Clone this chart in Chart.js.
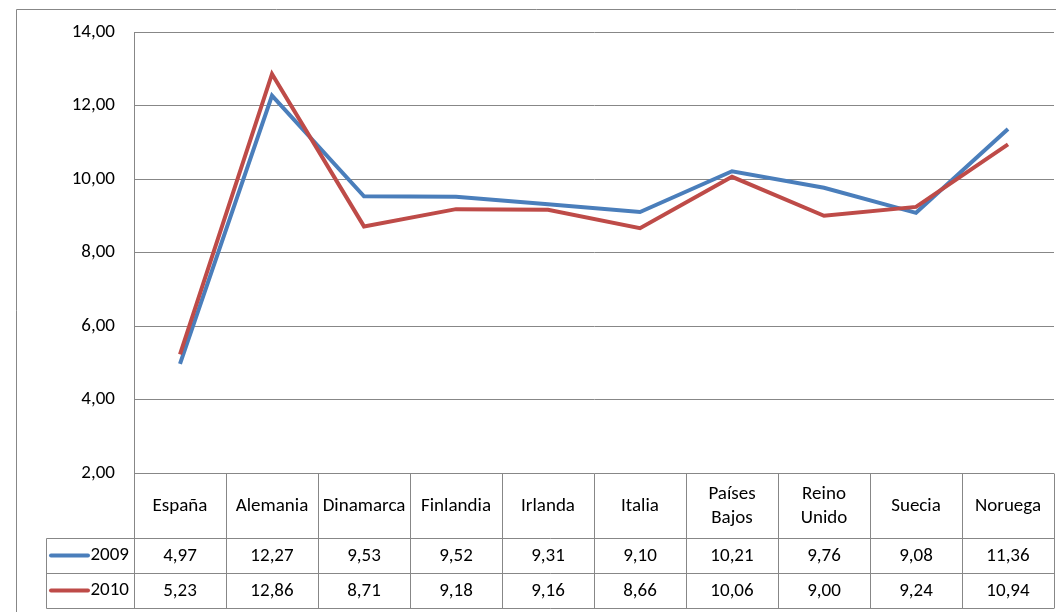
<!DOCTYPE html>
<html>
<head>
<meta charset="utf-8">
<script src="https://cdn.jsdelivr.net/npm/chart.js@4"></script>
<style>
  html, body { margin: 0; padding: 0; background: #fff; }
  #wrap { width: 1056px; height: 612px; position: relative; }
</style>
</head>
<body>
<div id="wrap"><canvas id="lineChart" width="1056" height="612"></canvas></div>
<script>
const countries = ["España", "Alemania", "Dinamarca", "Finlandia", "Irlanda", "Italia", ["Países", "Bajos"], ["Reino", "Unido"], "Suecia", "Noruega"];
const values2009 = [4.97, 12.27, 9.53, 9.52, 9.31, 9.10, 10.21, 9.76, 9.08, 11.36];
const values2010 = [5.23, 12.86, 8.71, 9.18, 9.16, 8.66, 10.06, 9.00, 9.24, 10.94];
const yTicks = [2, 4, 6, 8, 10, 12, 14];

const FONT = "Carlito, Calibri, 'Liberation Sans Narrow', 'DejaVu Sans Condensed', sans-serif";
const BLUE = "#4A7EBB";
const RED = "#BE4B48";
const GRID = "#878787";

const fmt = v => v.toFixed(2).replace(".", ",");

// data table + outer frame drawn under the chart area
const dataTable = {
    id: "dataTable",
    afterDraw(chart) {
        const ctx = chart.ctx;
        const x = chart.scales.x;
        const area = chart.chartArea;
        const n = countries.length;
        const colW = (area.right - area.left) / n;
        const top = Math.round(area.bottom) + 0.5;
        const rowH = [65, 35, 35];
        const r1 = top + rowH[0];
        const r2 = r1 + rowH[1];
        const r3 = r2 + rowH[2];
        const keyLeft = 46.5;

        ctx.save();
        ctx.strokeStyle = GRID;
        ctx.lineWidth = 1;
        ctx.beginPath();
        // outer chart frame
        ctx.moveTo(16.5, 612);
        ctx.lineTo(16.5, 9.5);
        ctx.lineTo(1056, 9.5);
        // table rows
        [r1, r2, r3].forEach(y => {
            ctx.moveTo(keyLeft, y);
            ctx.lineTo(area.right, y);
        });
        ctx.moveTo(keyLeft, r1);
        ctx.lineTo(keyLeft, r3);
        // column separators
        for (let i = 0; i <= n; i++) {
            const cx = Math.round(area.left + i * colW) + 0.5;
            ctx.moveTo(cx, top);
            ctx.lineTo(cx, r3);
        }
        ctx.stroke();

        ctx.fillStyle = "#000";
        ctx.font = "19px " + FONT;
        ctx.textAlign = "center";
        ctx.textBaseline = "middle";
        countries.forEach((c, i) => {
            const cx = x.getPixelForValue(i);
            const mid = top + rowH[0] / 2;
            if (Array.isArray(c)) {
                ctx.fillText(c[0], cx, mid - 12);
                ctx.fillText(c[1], cx, mid + 12);
            } else {
                ctx.fillText(c, cx, mid);
            }
            ctx.fillText(fmt(values2009[i]), cx, r1 + rowH[1] / 2);
            ctx.fillText(fmt(values2010[i]), cx, r2 + rowH[2] / 2);
        });

        // legend keys
        [[r1, BLUE, "2009"], [r2, RED, "2010"]].forEach(([y0, col, lab]) => {
            const cy = y0 + 17;
            ctx.strokeStyle = col;
            ctx.lineWidth = 4;
            ctx.lineCap = "round";
            ctx.beginPath();
            ctx.moveTo(51, cy);
            ctx.lineTo(88, cy);
            ctx.stroke();
            ctx.fillStyle = "#000";
            ctx.textAlign = "right";
            ctx.fillText(lab, 129, cy);
        });
        ctx.restore();
    },
};

new Chart(document.getElementById("lineChart").getContext("2d"), {
    type: "line",
    data: {
        labels: countries,
        datasets: [
            {
                label: "2009",
                data: values2009,
                borderColor: BLUE,
                backgroundColor: BLUE,
                borderWidth: 4,
                pointRadius: 0,
                tension: 0,
                order: 1,
            },
            {
                label: "2010",
                data: values2010,
                borderColor: RED,
                backgroundColor: RED,
                borderWidth: 4,
                pointRadius: 0,
                tension: 0,
                order: 0,
            },
        ],
    },
    options: {
        responsive: false,
        animation: false,
        devicePixelRatio: 1,
        layout: {
            padding: { top: 32, bottom: 139, left: 0, right: 2 },
        },
        plugins: {
            legend: { display: false },
            tooltip: { enabled: false },
        },
        scales: {
            x: {
                display: false,
                offset: true,
            },
            y: {
                min: 2,
                max: 14,
                afterFit: scale => { scale.width = 134; },
                afterBuildTicks: scale => { scale.ticks = yTicks.map(v => ({ value: v })); },
                grid: {
                    color: GRID,
                    lineWidth: 1,
                    drawTicks: false,
                },
                border: { color: GRID, width: 1 },
                ticks: {
                    padding: 19,
                    color: "#000",
                    font: { family: FONT, size: 19 },
                    callback: v => fmt(v),
                },
            },
        },
    },
    plugins: [dataTable],
});
</script>
</body>
</html>
